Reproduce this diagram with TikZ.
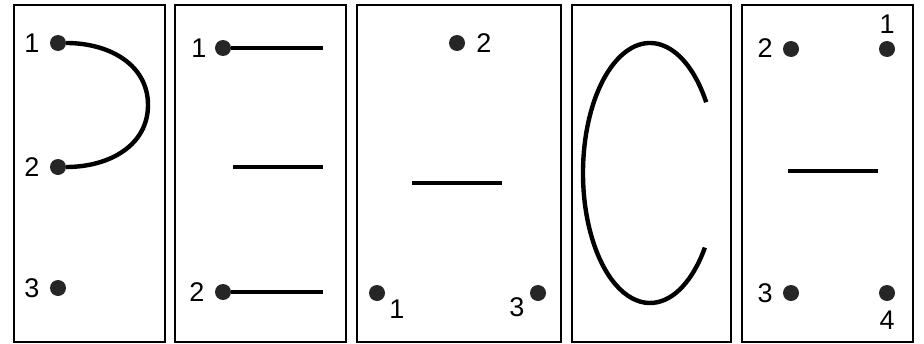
\documentclass[tikz,border=0pt]{standalone}
\usepackage{fontspec}
\setmainfont{Liberation Sans}
\begin{document}
\begin{tikzpicture}[x=1pt,y=-1pt,
  frame/.style={draw=black,line width=1.6pt},
  dot/.style={circle,fill=black!85,inner sep=0pt,minimum size=16pt},
  lbl/.style={inner sep=0pt,font=\fontsize{27}{28}\selectfont},
  stroke/.style={line width=4.4pt,line cap=butt}]
\useasboundingbox (0,0) rectangle (924,343);
% frames
\draw[frame] (14,5) rectangle (165,342);
\draw[frame] (175,5) rectangle (346,342);
\draw[frame] (357,5) rectangle (561,342);
\draw[frame] (572,5) rectangle (731,342);
\draw[frame] (742,5) rectangle (913,342);
% panel 1
\node[dot] (a1) at (58,43) {};
\node[dot] (a2) at (58,167) {};
\node[dot] (a3) at (58,288) {};
\node[lbl] (la1) at (32,43) {1};
\node[lbl] (la2) at (32,167) {2};
\node[lbl] (la3) at (32,288) {3};
\draw[stroke] (a1.east) .. controls (110,43) and (148,65) .. (148,105)
  .. controls (148,145) and (110,167) .. (a2.east);
% panel 2
\node[dot] (b1) at (223,48) {};
\node[dot] (b2) at (223,292) {};
\node[lbl] (lb1) at (199,48) {1};
\node[lbl] (lb2) at (197,292) {2};
\coordinate (b1e) at (323,48);
\coordinate (b2e) at (323,292);
\coordinate (bms) at (233,167);
\coordinate (bme) at (323,167);
\draw[stroke] (b1) -- (b1e);
\draw[stroke] (b2) -- (b2e);
\draw[stroke] (bms) -- (bme);
% panel 3
\node[dot] (c2) at (457,43) {};
\node[dot] (c1) at (377,293) {};
\node[dot] (c3) at (538,293) {};
\node[lbl] (lc2) at (484,43) {2};
\node[lbl] (lc1) at (397,309) {1};
\node[lbl] (lc3) at (517,307) {3};
\coordinate (cms) at (412,183);
\coordinate (cme) at (502,183);
\draw[stroke] (cms) -- (cme);
% panel 4
\coordinate (dc) at (650,173);
\draw[stroke] (dc) ++(33:67 and -130) arc[start angle=33,end angle=325,x radius=67,y radius=-130];
% panel 5
\node[dot] (e2) at (791,49) {};
\node[dot] (e1) at (887,49) {};
\node[dot] (e3) at (791,293) {};
\node[dot] (e4) at (887,293) {};
\node[lbl] (le2) at (765,48) {2};
\node[lbl] (le1) at (887,24) {1};
\node[lbl] (le3) at (765,293) {3};
\node[lbl] (le4) at (887,320) {4};
\coordinate (ems) at (788,171);
\coordinate (eme) at (878,171);
\draw[stroke] (ems) -- (eme);
\end{tikzpicture}
\end{document}
